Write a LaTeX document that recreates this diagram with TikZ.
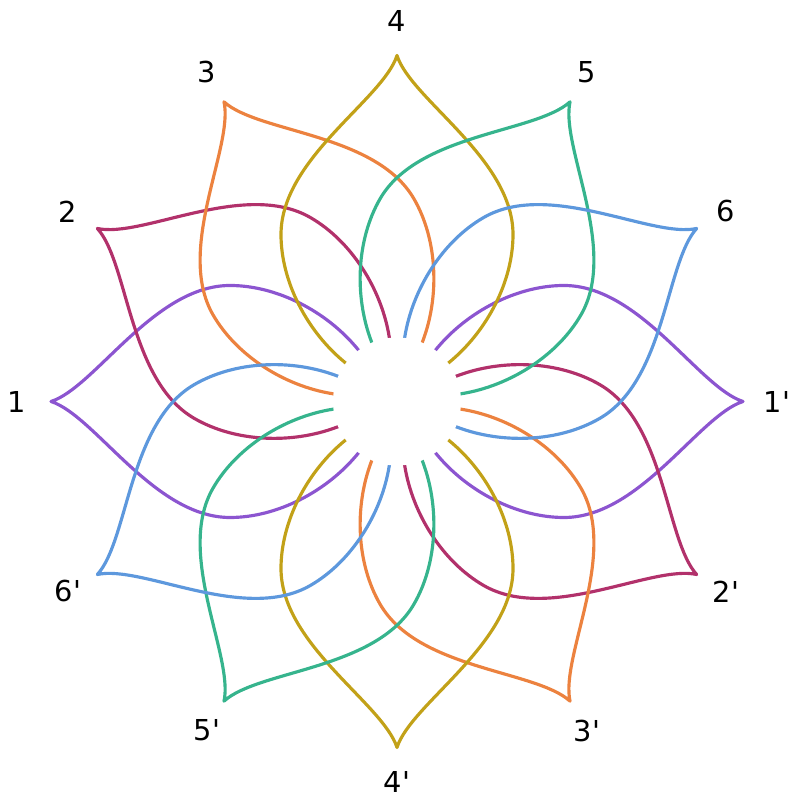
\documentclass[tikz,border=0pt]{standalone}
\usepackage{fontspec}
\setmainfont{DejaVu Sans}
\definecolor{petalone}{HTML}{8C55D0}
\definecolor{petaltwo}{HTML}{B2316B}
\definecolor{petalthree}{HTML}{EC823F}
\definecolor{petalfour}{HTML}{C2A118}
\definecolor{petalfive}{HTML}{36B48D}
\definecolor{petalsix}{HTML}{5D98DD}
\begin{document}
\begin{tikzpicture}[
		x=0.01cm, y=0.01cm,
		petal/.style={line width=0.9pt, line join=round},
		hole/.style={fill=white, draw=none},
		tip label/.style={font=\fontsize{8.2}{9}\selectfont, inner sep=0pt},
		]
		\useasboundingbox (-397,-402.5) rectangle (401,401.5);
		\foreach \k/\col in {1/petalone,2/petaltwo,3/petalthree,4/petalfour,5/petalfive,6/petalsix} {
			\pgfmathsetmacro{\ang}{210-30*\k}
			\foreach \r in {0,180} {
				\draw[petal, \col, rotate=\ang-180+\r] (-26,-37) -- (-39,-52)
					.. controls (-70,-90) and (-120,-116) .. (-167,-116)
					.. controls (-243,-116) and (-302,-14) .. (-346,0)
					.. controls (-302,14) and (-243,116) .. (-167,116)
					.. controls (-120,116) and (-70,90) .. (-39,52) -- (-26,37);
			}
			\node[tip label] (lab\k) at (\ang:380) {\k};
			\node[tip label] (lab\k p) at (\ang+180:380) {\k\textquotesingle};
		}
		% white disc over the crossing strands
		\fill[hole] (0,0) circle (64);
	\end{tikzpicture}
\end{document}
